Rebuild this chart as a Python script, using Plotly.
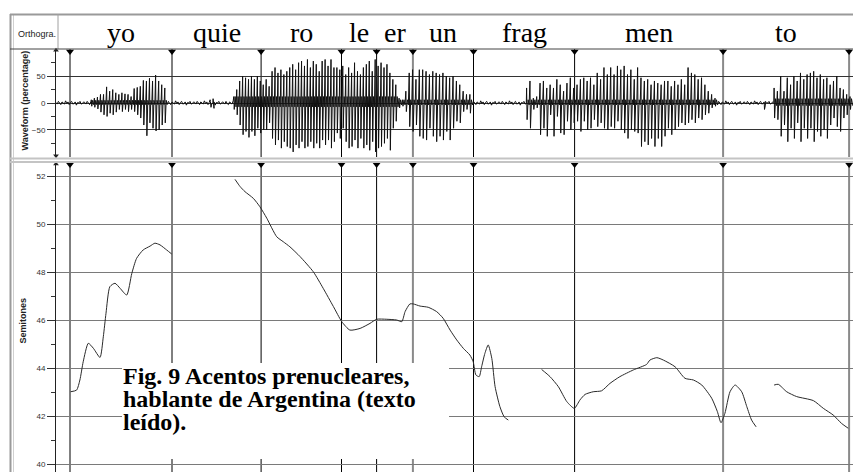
import numpy as np
import plotly.graph_objects as go

W, H = 853, 472

# ---- segmentation (time in s) ----
boundaries = [0.040, 0.380, 0.677, 0.945, 1.062, 1.183, 1.385, 1.722, 2.217, 2.637]
boundary_grey = [False, False, False, False, False, True, False, False, True, True]
syllables = ["yo", "quie", "ro", "le", "er", "un", "frag", "men", "to"]

# ---- F0 contour in semitones, one list pair per voiced stretch ----
f0_t_1 = [0.042, 0.062, 0.073, 0.084, 0.101, 0.118, 0.140, 0.151, 0.160, 0.173, 0.190,
          0.207, 0.229, 0.246, 0.262, 0.284, 0.307, 0.323, 0.340, 0.362, 0.379]
f0_st_1 = [43.01, 43.08, 43.5, 44.26, 45.03, 44.82, 44.44, 45.3, 46.28, 47.39, 47.53,
           47.32, 47.04, 47.94, 48.57, 48.92, 49.08, 49.2, 49.13, 48.92, 48.75]
f0_t_2 = [0.590, 0.607, 0.623, 0.651, 0.673, 0.696, 0.729, 0.751, 0.773, 0.807, 0.851,
          0.884, 0.918, 0.946, 0.973, 1.007, 1.040, 1.062, 1.096, 1.129, 1.146, 1.157,
          1.173, 1.184, 1.207, 1.234, 1.262, 1.284, 1.307, 1.329, 1.351, 1.373, 1.384,
          1.393, 1.404, 1.412, 1.423, 1.434, 1.446, 1.457, 1.473, 1.487, 1.501]
f0_st_2 = [51.86, 51.56, 51.35, 51.07, 50.72, 50.24, 49.47, 49.26, 49.05, 48.64, 48.01,
           47.32, 46.56, 45.93, 45.58, 45.65, 45.86, 46.03, 46.03, 46.0, 45.93, 46.35,
           46.67, 46.67, 46.58, 46.53, 46.35, 46.07, 45.58, 45.17, 44.82, 44.54, 44.26,
           43.71, 43.64, 44.05, 44.61, 44.96, 44.4, 43.22, 42.39, 41.97, 41.83]
f0_t_3 = [1.612, 1.640, 1.668, 1.696, 1.721, 1.740, 1.757, 1.784, 1.812, 1.840, 1.873,
          1.918, 1.962, 1.973, 1.996, 2.018, 2.057, 2.090, 2.118, 2.146, 2.179, 2.198,
          2.210, 2.223, 2.240, 2.257, 2.279, 2.296, 2.312, 2.327]
f0_st_3 = [43.94, 43.64, 43.22, 42.6, 42.32, 42.67, 42.9, 43.01, 43.05, 43.36, 43.64,
           43.92, 44.15, 44.33, 44.43, 44.33, 44.05, 43.57, 43.5, 43.29, 42.74, 42.18,
           41.72, 42.11, 43.01, 43.29, 43.01, 42.39, 41.83, 41.55]
f0_t_4 = [2.387, 2.401, 2.429, 2.462, 2.518, 2.551, 2.584, 2.612, 2.634]
f0_st_4 = [43.29, 43.32, 43.01, 42.81, 42.64, 42.32, 42.04, 41.69, 41.49]

# ---- waveform: voiced stretches as (start, end), pulse peak / trough (%) and
#      the level of the dense low-amplitude core between pulses (%) ----
wave_yo_span = (0.111, 0.356)
wave_yo_core = 5
wave_yo_up = [6, 9, 11, 16, 16, 30, 22, 25, 19, 16, 19, 17, 16, 12, 27, 29, 31, 42, 41,
              46, 41, 52, 41, 34, 28]
wave_yo_dn = [6, 8, 11, 17, 22, 25, 19, 22, 17, 12, 16, 12, 16, 12, 16, 22, 28, 41, 61,
              37, 47, 52, 50, 41, 37]
wave_a_span = (0.586, 1.126)
wave_a_core = 12
wave_a_up = [12, 25, 41, 50, 47, 44, 50, 44, 50, 41, 34, 44, 31, 59, 66, 56, 62, 53, 59,
             66, 72, 62, 75, 78, 69, 81, 66, 78, 72, 59, 78, 81, 69, 81, 66,
             66, 62, 69, 53, 66, 56, 75, 59, 53, 66, 72, 78, 59, 81, 69, 75, 66, 72,
             56, 44, 34]
wave_a_dn = [12, 22, 41, 59, 53, 64, 53, 61, 47, 56, 50, 50, 37, 66, 78, 69, 84, 72, 81,
             84, 91, 78, 84, 72, 84, 81, 72, 84, 75, 84, 69, 78, 69, 84, 72,
             56, 66, 47, 72, 84, 81, 69, 84, 66, 84, 78, 88, 72, 91, 84, 81, 75, 66,
             88, 47, 34]
wave_b_span = (1.137, 1.373)
wave_b_core = 6
wave_b_up = [9, 6, 22, 56, 62, 44, 62, 62, 59, 53, 59, 56, 53, 56, 50, 47, 50, 41, 34,
             22, 16, 16]
wave_b_dn = [9, 6, 16, 44, 53, 41, 62, 66, 69, 47, 62, 72, 62, 69, 53, 69, 47, 34, 37,
             16, 12, 19]
wave_c_span = (1.562, 2.190)
wave_c_core = 6
wave_c_up = [28, 41, 9, 12, 37, 41, 28, 34, 28, 44, 34, 22, 37, 47, 28, 34, 44, 47, 41,
             47, 34, 56, 44, 66, 53, 66, 53, 69, 62, 69, 53, 62, 44, 66, 47, 41, 44,
             34, 41, 37, 34, 41, 41, 31, 41, 34, 44, 34, 66, 56, 53, 44, 47, 34, 22,
             16, 9]
wave_c_dn = [31, 47, 12, 9, 59, 47, 62, 22, 62, 25, 56, 59, 34, 50, 37, 34, 53, 34, 50,
             47, 31, 44, 37, 47, 50, 44, 47, 34, 50, 56, 66, 50, 53, 56, 81, 72, 78,
             66, 81, 66, 81, 62, 47, 59, 50, 44, 37, 41, 37, 31, 37, 28, 31, 22, 19,
             9, 6]
wave_d_span = (2.387, 2.640)
wave_d_core = 8
wave_d_up = [28, 22, 50, 22, 47, 34, 50, 41, 56, 44, 53, 56, 59, 47, 53, 44, 47, 34, 41,
             50, 28, 25, 16, 12]
wave_d_dn = [28, 31, 62, 41, 72, 47, 66, 37, 72, 47, 66, 47, 72, 53, 62, 50, 66, 41, 28,
             44, 53, 28, 22, 12]
# low-level background noise between voiced stretches (%)
hiss = [1, -2, 3, -1, -3, 2, 0, -2, 4, -1, 2, -3, 1, 3, -2, -1, 2, -4, 1, 0, 3, -2, -1, 2]
# isolated bursts inside the pauses (time, %)
clicks_t = [0.507, 0.510, 0.517, 0.520, 2.355, 2.358]
clicks_v = [6, -8, 8, -10, -12, 3]

# ---- pixel helpers for layout placement ----
X0_PX = 56            # left edge of the time axis
PX_PER_S = 300.0
T_MIN = -(58 - X0_PX) / PX_PER_S
T_MAX = T_MIN + (W - X0_PX) / PX_PER_S


def px(x):
    return x / W


def py(y):
    return 1 - y / H


# ---- waveform polyline ----
def voiced(span, up, dn, core):
    t0, t1 = span
    ts = np.linspace(t0, t1, len(up))
    step = (t1 - t0) / (len(up) - 1)
    xs, ys = [], []
    for t, u, d in zip(ts, up, dn):
        xs += [t, t + 0.15 * step, t + 0.45 * step, t + 0.75 * step]
        ys += [u, -d, core, -core * 0.6]
    return xs, ys


def quiet(t0, t1):
    ts = np.arange(t0, t1, 0.004)
    return list(ts), [hiss[i % len(hiss)] for i in range(len(ts))]


pieces = [
    quiet(T_MIN, wave_yo_span[0]),
    voiced(wave_yo_span, wave_yo_up, wave_yo_dn, wave_yo_core),
    quiet(wave_yo_span[1] + 0.004, wave_a_span[0]),
    voiced(wave_a_span, wave_a_up, wave_a_dn, wave_a_core),
    voiced(wave_b_span, wave_b_up, wave_b_dn, wave_b_core),
    quiet(wave_b_span[1] + 0.004, wave_c_span[0]),
    voiced(wave_c_span, wave_c_up, wave_c_dn, wave_c_core),
    quiet(wave_c_span[1] + 0.004, wave_d_span[0]),
    voiced(wave_d_span, wave_d_up, wave_d_dn, wave_d_core),
    quiet(wave_d_span[1] + 0.004, T_MAX),
    (clicks_t, clicks_v),
]
wx, wy = [], []
for xs, ys in pieces:
    wx += list(xs)
    wy += list(ys)
order = np.argsort(np.array(wx), kind="stable")
wx = np.array(wx)[order]
wy = np.array(wy)[order]

fig = go.Figure()

# waveform panel
fig.add_trace(go.Scatter(x=wx, y=wy, mode="lines", xaxis="x", yaxis="y2",
                         line=dict(color="#111111", width=1), hoverinfo="skip"))

# F0 contour, each voiced stretch separately
for ts, sts in [(f0_t_1, f0_st_1), (f0_t_2, f0_st_2), (f0_t_3, f0_st_3), (f0_t_4, f0_st_4)]:
    fig.add_trace(go.Scatter(x=ts, y=sts, mode="lines", xaxis="x", yaxis="y",
                             line=dict(color="#2a2a2a", width=1, shape="spline", smoothing=0.6),
                             hoverinfo="skip"))

# boundary markers at the top of both panels
WAVE_TOP, F0_TOP = 96.0, 52.48
fig.add_trace(go.Scatter(x=boundaries, y=[WAVE_TOP] * len(boundaries), mode="markers",
                         xaxis="x", yaxis="y2", cliponaxis=False,
                         marker=dict(symbol="triangle-down", size=7, color="black")))
fig.add_trace(go.Scatter(x=boundaries, y=[F0_TOP] * len(boundaries), mode="markers",
                         xaxis="x", yaxis="y", cliponaxis=False,
                         marker=dict(symbol="triangle-down", size=7, color="black")))
# axis arrowheads
fig.add_trace(go.Scatter(x=[T_MIN, T_MIN], y=[98, -98], mode="markers", xaxis="x", yaxis="y2",
                         cliponaxis=False,
                         marker=dict(symbol=["triangle-up", "triangle-down"], size=5, color="#222")))
fig.add_trace(go.Scatter(x=[T_MIN], y=[52.5], mode="markers", xaxis="x", yaxis="y",
                         cliponaxis=False,
                         marker=dict(symbol="triangle-up", size=5, color="#222")))

shapes = []
# syllable boundaries in both panels
for b, grey in zip(boundaries, boundary_grey):
    col = "#8a8a8a" if grey else "black"
    wid = 2 if grey else 1
    shapes.append(dict(type="line", xref="x", yref="paper", x0=b, x1=b,
                       y0=py(157), y1=py(49), line=dict(color=col, width=wid), layer="below"))
    shapes.append(dict(type="line", xref="x", yref="paper", x0=b, x1=b,
                       y0=0, y1=py(163), line=dict(color=col, width=wid), layer="below"))

# window frame and panel separators
frame = [
    (10.5, 14, 10.5, H, "#9a9a9a", 2),
    (13.5, 14, 13.5, H, "#d0d0d0", 1),
    (10, 14.5, W, 14.5, "#9a9a9a", 2),
    (58, 14, 58, 49, "#a0a0a0", 1),
    (10, 49, W, 49, "#444444", 1),
    (10, 158.5, W, 158.5, "#c4c4c4", 2),
    (10, 162, W, 162, "#c4c4c4", 2),
]
for x0, y0, x1, y1, col, wid in frame:
    shapes.append(dict(type="line", xref="paper", yref="paper", x0=px(x0), x1=px(x1),
                       y0=py(y0), y1=py(y1), line=dict(color=col, width=wid)))

# white box behind the caption
shapes.append(dict(type="rect", xref="paper", yref="paper", x0=px(122), x1=px(449),
                   y0=py(459), y1=py(363), fillcolor="white", line=dict(width=0), layer="above"))

annotations = []
# syllable labels centred between boundaries
for i, syl in enumerate(syllables):
    annotations.append(dict(x=(boundaries[i] + boundaries[i + 1]) / 2, xref="x",
                            y=py(32), yref="paper", text=syl, showarrow=False,
                            xanchor="center", yanchor="middle",
                            font=dict(family="Liberation Serif", size=28, color="black")))
annotations.append(dict(x=px(16), y=py(34), xref="paper", yref="paper", text="Orthogra.",
                        showarrow=False, xanchor="left", yanchor="middle",
                        font=dict(family="Liberation Sans", size=9, color="#222")))
annotations.append(dict(x=px(24.5), y=py(101), xref="paper", yref="paper",
                        text="<b>Waveform (percentage)</b>", textangle=-90, showarrow=False,
                        xanchor="center", yanchor="middle",
                        font=dict(family="Liberation Sans", size=9, color="#222")))
annotations.append(dict(x=px(22.5), y=py(321), xref="paper", yref="paper",
                        text="<b>Semitones</b>", textangle=-90, showarrow=False,
                        xanchor="center", yanchor="middle",
                        font=dict(family="Liberation Sans", size=9, color="#222")))

# caption, one annotation per line for tight leading
caption = ["Fig. 9 Acentos prenucleares,", "hablante de Argentina (texto", "leído)."]
caption_y = [375.5, 399, 421.5]
for line, yy in zip(caption, caption_y):
    annotations.append(dict(x=px(121), y=py(yy), xref="paper", yref="paper",
                            text=f"<b>{line}</b>", showarrow=False,
                            xanchor="left", yanchor="middle",
                            font=dict(family="Liberation Serif", size=24, color="black")))

tickfont = dict(family="Liberation Sans", size=8, color="#333")

fig.update_layout(
    width=W, height=H,
    margin=dict(l=0, r=0, t=0, b=0),
    paper_bgcolor="white", plot_bgcolor="white",
    showlegend=False,
    xaxis=dict(domain=[px(X0_PX), 1], range=[T_MIN, T_MAX], showticklabels=False,
               showgrid=False, zeroline=False, ticks="", fixedrange=True),
    yaxis=dict(domain=[0, py(162)], range=[52 - (H - 176) / 24, 52 + 14 / 24],
               anchor="x", tickvals=[40, 42, 44, 46, 48, 50, 52], ticks="outside",
               ticklen=8, tickcolor="#333", tickwidth=1, tickfont=tickfont,
               showgrid=True, gridcolor="#7a7a7a", gridwidth=1, zeroline=False,
               showline=True, linecolor="#222", linewidth=1,
               minor=dict(tickvals=[41, 43, 45, 47, 49, 51], ticks="outside", ticklen=4,
                          tickcolor="#333", showgrid=False)),
    yaxis2=dict(domain=[py(157), py(49)], range=[-100.5, 100.5], anchor="x",
                tickvals=[-50, 0, 50], ticks="outside", ticklen=8, tickcolor="#333",
                tickfont=tickfont, showgrid=True, gridcolor="#333", gridwidth=1,
                zeroline=False, showline=True, linecolor="#222", linewidth=1,
                minor=dict(tickvals=[-75, -25, 25, 75], ticks="outside", ticklen=4,
                           tickcolor="#333", showgrid=False)),
    shapes=shapes,
    annotations=annotations,
)

fig.write_html("out.html")
